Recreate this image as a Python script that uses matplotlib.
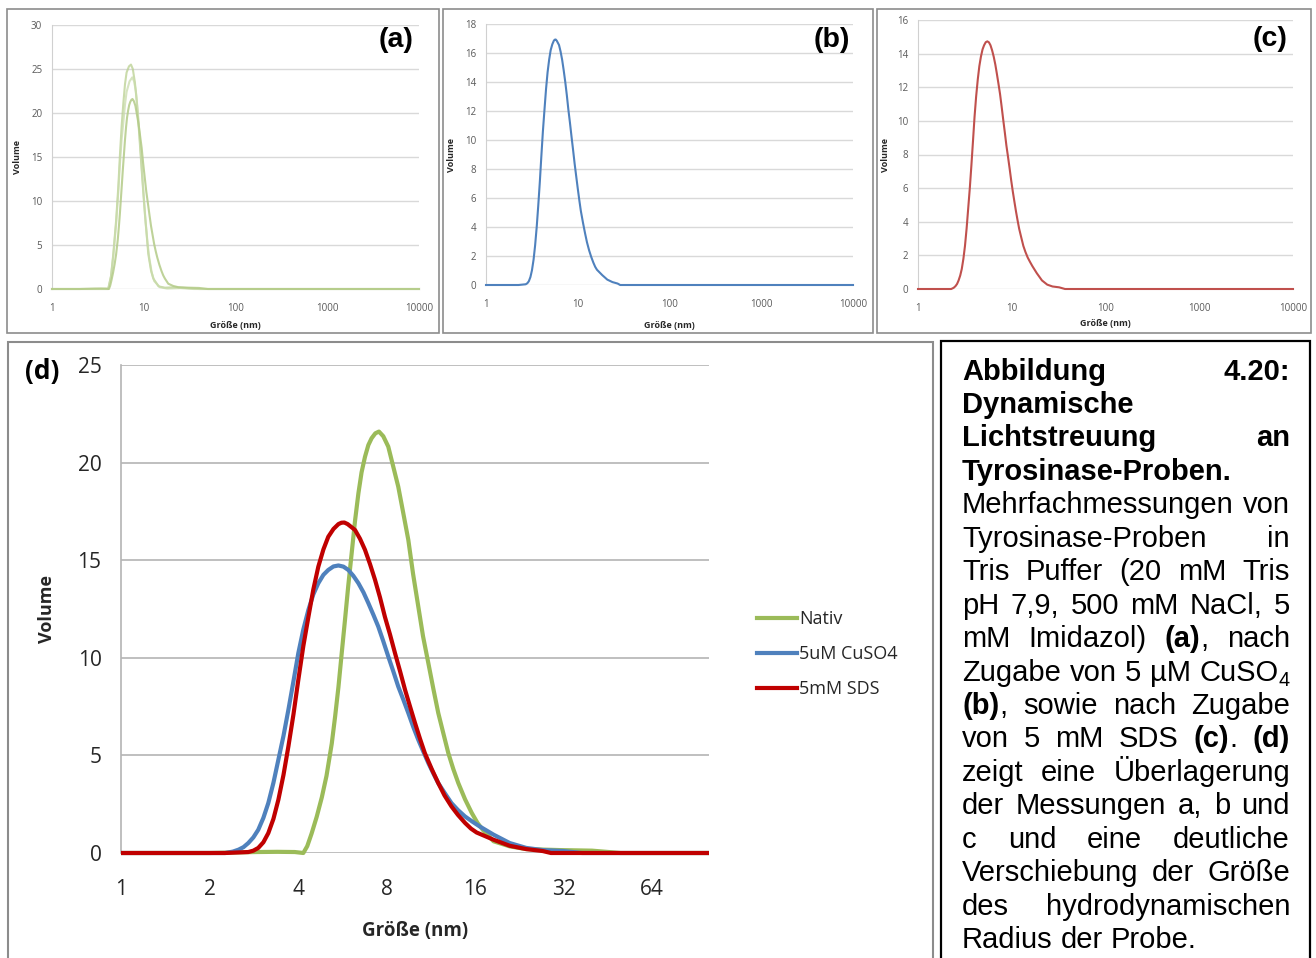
"""Rebuild of the DLS figure (Abbildung 4.20): three single panels,
one overlay panel and the justified caption box on the right.
"""

import numpy as np
import matplotlib

matplotlib.use("Agg")
import matplotlib.pyplot as plt
from matplotlib.patches import Rectangle
from matplotlib.ticker import NullLocator

# ---- data (size in nm, volume in %) ----
nativ_x = [1, 2.0, 2.9, 3.4, 3.9, 4.17, 4.3, 4.45, 4.63, 4.82, 5.0, 5.21,
           5.35, 5.49, 5.63, 5.78, 5.93, 6.09, 6.25, 6.42, 6.58, 6.76, 6.94,
           7.12, 7.33, 7.54, 7.8, 8.11, 8.4, 8.77, 9.1, 9.49, 9.85, 10.26,
           10.65, 11.1, 11.55, 12.0, 12.5, 12.98, 13.5, 14.04, 14.8, 15.6,
           16.3, 17.0, 18.5, 21.0, 23.9, 31, 40, 45.6, 50, 10000]
nativ_y = [0, 0, 0.05, 0.06, 0.05, 0, 0.35, 1.0, 1.85, 2.85, 3.95, 5.6,
           7.0, 8.5, 10.2, 11.95, 13.7, 15.36, 17.0, 18.43, 19.5, 20.3, 20.9,
           21.25, 21.5, 21.59, 21.35, 20.82, 19.9, 18.77, 17.5, 16.04, 14.3,
           12.63, 11.1, 9.73, 8.4, 7.17, 6.1, 5.12, 4.3, 3.58, 2.75, 2.05,
           1.55, 1.19, 0.6, 0.34, 0.2, 0.15, 0.12, 0.05, 0, 0]

cuso4_x = [1, 2.26, 2.4, 2.51, 2.61, 2.71, 2.82, 2.93, 3.05, 3.17, 3.3,
           3.43, 3.57, 3.71, 3.86, 4.01, 4.17, 4.34, 4.51, 4.69, 4.88, 5.07,
           5.28, 5.49, 5.71, 5.93, 6.17, 6.42, 6.68, 6.94, 7.22, 7.5, 7.8,
           8.11, 8.44, 8.77, 9.13, 9.49, 9.87, 10.26, 10.67, 11.1, 11.55,
           12.0, 12.65, 13.3, 14.0, 14.8, 15.7, 16.6, 18.5, 21.0, 23.9, 27.2,
           32, 37, 10000]
cuso4_y = [0, 0, 0.07, 0.17, 0.3, 0.51, 0.8, 1.19, 1.8, 2.56, 3.6, 4.78,
           6.0, 7.34, 8.8, 10.24, 11.45, 12.46, 13.25, 13.82, 14.25, 14.5,
           14.68, 14.73, 14.67, 14.5, 14.2, 13.82, 13.35, 12.8, 12.2, 11.6,
           10.85, 10.07, 9.3, 8.53, 7.85, 7.17, 6.45, 5.8, 5.2, 4.61, 4.07,
           3.58, 3.05, 2.56, 2.2, 1.87, 1.6, 1.36, 0.94, 0.51, 0.26, 0.15,
           0.1, 0, 0]

sds_x = [1, 2.26, 2.71, 2.82, 2.93, 3.05, 3.17, 3.3, 3.43, 3.57, 3.71,
         3.86, 4.01, 4.17, 4.34, 4.51, 4.69, 4.88, 5.07, 5.28, 5.49, 5.62,
         5.75, 5.9, 6.25, 6.5, 6.76, 7.03, 7.31, 7.6, 7.9, 8.22, 8.55, 8.9,
         9.25, 9.62, 10.0, 10.4, 10.8, 11.4, 12.0, 12.6, 13.3, 14.0, 14.8,
         15.5, 16.2, 18.5, 21.0, 23.9, 27.2, 29, 10000]
sds_y = [0, 0, 0.05, 0.12, 0.26, 0.55, 1.02, 1.75, 2.73, 4.0, 5.46, 7.1,
         8.87, 10.6, 12.1, 13.5, 14.67, 15.55, 16.2, 16.6, 16.85, 16.92,
         16.93, 16.85, 16.55, 16.1, 15.53, 14.8, 14.0, 13.1, 12.1, 11.2,
         10.24, 9.3, 8.36, 7.5, 6.66, 5.85, 5.12, 4.3, 3.58, 2.95, 2.39,
         1.95, 1.54, 1.25, 1.05, 0.68, 0.37, 0.2, 0.1, 0, 0]

# two further repeat measurements of the native sample, panel (a)
rep1_x = [1, 4.1, 4.4, 4.66, 5.0, 5.28, 5.5, 5.74, 6.0, 6.25, 6.5, 6.9,
          7.26, 7.6, 8.0, 8.4, 8.8, 9.2, 9.5, 9.9, 10.3, 10.8, 11.2, 12.0,
          12.7, 14.5, 17, 22, 30, 40, 10000]
rep1_y = [0, 0, 1.5, 4.0, 7.8, 11.6, 15.2, 18.5, 21.2, 23.3, 24.6, 25.3,
          25.5, 25.0, 23.5, 21.3, 18.5, 15.6, 13.5, 10.9, 8.5, 6.0, 4.0, 2.1,
          1.2, 0.3, 0.15, 0.2, 0.1, 0, 0]
rep2_x = [1, 4.1, 4.4, 4.66, 5.0, 5.28, 5.5, 5.74, 6.0, 6.25, 6.5, 7.0,
          7.5, 7.85, 8.2, 8.6, 9.0, 9.35, 9.7, 10.1, 10.5, 11.0, 11.5, 12.2,
          13.0, 15.0, 18, 25, 35, 10000]
rep2_y = [0, 0, 1.4, 3.8, 7.4, 11.0, 14.2, 17.0, 19.0, 21.0, 22.4, 23.6,
          24.05, 23.6, 22.5, 20.2, 17.5, 15.0, 12.5, 9.9, 7.5, 5.2, 3.5, 1.9,
          0.9, 0.2, 0.05, 0.1, 0, 0]

series_labels = ["Nativ", "5uM CuSO4", "5mM SDS"]
small_xticks = [1, 10, 100, 1000, 10000]
big_xticks = [1, 2, 4, 8, 16, 32, 64]

caption_lines = [
    ("*Abbildung 4.20:*", True),
    ("*Dynamische*", False),
    ("*Lichtstreuung an*", True),
    ("*Tyrosinase-Proben.*", False),
    ("Mehrfachmessungen von", True),
    ("Tyrosinase-Proben in", True),
    ("Tris Puffer (20 mM Tris", True),
    ("pH 7,9, 500 mM NaCl, 5", True),
    ("mM Imidazol) *(a)*, nach", True),
    ("Zugabe von 5 \u00b5M CuSO_4", True),
    ("*(b)*, sowie nach Zugabe", True),
    ("von 5 mM SDS *(c)*. *(d)*", True),
    ("zeigt eine \u00dcberlagerung", True),
    ("der Messungen a, b und", True),
    ("c und eine deutliche", True),
    ("Verschiebung der Gr\u00f6\u00dfe", True),
    ("des hydrodynamischen", True),
    ("Radius der Probe.", False),
]

W, H = 1316, 958
UI_FONT = "Open Sans"
CAP_FONT = "Liberation Sans"
CAP_FS = 21


def fx(px):
    return px / W


def fy(py):
    return 1 - py / H


def frame(fig, x0, y0, x1, y1, color, lw):
    fig.add_artist(Rectangle((fx(x0), fy(y1)), (x1 - x0) / W, (y1 - y0) / H,
                             transform=fig.transFigure, fill=False,
                             edgecolor=color, linewidth=lw))


def small_panel(fig, box, ymax, ystep, curves, tag, tag_pos, ylab_pos,
                xlab_pos):
    left, top, right, bottom = box
    ax = fig.add_axes([fx(left), fy(bottom), (right - left) / W,
                       (bottom - top) / H])
    for x, y, color, alpha in curves:
        ax.plot(x, y, color=color, lw=1.5, alpha=alpha, clip_on=False,
                zorder=3, solid_joinstyle="round")
    ax.set_xscale("log")
    ax.set_xlim(1, 10000)
    ax.set_ylim(0, ymax)
    ax.set_xticks(small_xticks)
    ax.set_xticklabels([str(t) for t in small_xticks])
    ax.xaxis.set_minor_locator(NullLocator())
    ax.set_yticks(np.arange(0, ymax + 1, ystep))
    ax.grid(axis="y", color="#d9d9d9", lw=1)
    ax.set_axisbelow(True)
    ax.tick_params(length=0, labelsize=7, labelcolor="#595959")
    ax.tick_params(axis="x", pad=10)
    ax.tick_params(axis="y", pad=7)
    for lab in ax.get_xticklabels() + ax.get_yticklabels():
        lab.set_family(UI_FONT)
    for s in ["top", "right", "bottom"]:
        ax.spines[s].set_visible(False)
    ax.spines["left"].set_color("#d0d0d0")

    fig.text(fx(tag_pos[0]), fy(tag_pos[1]), tag, fontsize=20.5,
             fontweight="bold", family=CAP_FONT, ha="right", va="center")
    fig.text(fx(ylab_pos[0]), fy(ylab_pos[1]), "Volume", fontsize=6.5,
             fontweight="bold", family=UI_FONT, rotation=90,
             ha="center", va="center", color="#262626")
    fig.text(fx(xlab_pos[0]), fy(xlab_pos[1]), "Gr\u00f6\u00dfe (nm)",
             fontsize=6.5, fontweight="bold", family=UI_FONT,
             ha="center", va="center", color="#262626")
    return ax


def parse_line(line):
    """split a caption line into words made of (text, bold, subscript)"""
    words = []
    bold = False
    for raw in line.split(" "):
        segs = []
        buf = ""
        sub = False
        for ch in raw:
            if ch == "*":
                if buf:
                    segs.append((buf, bold, False))
                    buf = ""
                bold = not bold
            elif ch == "_":
                if buf:
                    segs.append((buf, bold, False))
                    buf = ""
                sub = True
            elif sub:
                segs.append((ch, bold, True))
                sub = False
            else:
                buf += ch
        if buf:
            segs.append((buf, bold, False))
        words.append(segs)
    return words


def draw_caption(fig, x0, x1, first_base, step):
    renderer = fig.canvas.get_renderer()
    space = 0.278 * CAP_FS * 100 / 72
    for i, (line, justify) in enumerate(caption_lines):
        base = first_base + i * step
        placed = []
        widths = []
        for segs in parse_line(line):
            items = []
            wsum = 0
            for s, bold, sub in segs:
                t = fig.text(0, 0, s, fontsize=CAP_FS * (0.68 if sub else 1),
                             fontweight="bold" if bold else "normal",
                             family=CAP_FONT, ha="left", va="baseline")
                items.append((t, wsum, sub))
                wsum += t.get_window_extent(renderer).width
            placed.append(items)
            widths.append(wsum)
        if justify and len(widths) > 1:
            gap = (x1 - x0 - sum(widths)) / (len(widths) - 1)
        else:
            gap = space
        x = x0
        for items, w in zip(placed, widths):
            for t, off, sub in items:
                t.set_position((fx(x + off), fy(base + (5 if sub else 0))))
            x += w + gap


def main():
    fig = plt.figure(figsize=(W / 100, H / 100), dpi=100)

    # outer frames
    frame(fig, 7, 9, 439, 333, "#8c8c8c", 1.2)
    frame(fig, 443, 9, 872.5, 333, "#8c8c8c", 1.2)
    frame(fig, 876.5, 9, 1311, 333, "#8c8c8c", 1.2)
    frame(fig, 8, 342, 932.5, 975, "#8c8c8c", 1.5)
    frame(fig, 940.5, 341, 1310, 975, "black", 1.6)

    small_panel(fig, (52, 25, 419, 289), 30, 5,
                [(rep1_x, rep1_y, "#b9d08f", 0.75),
                 (rep2_x, rep2_y, "#c9dbab", 0.75),
                 (nativ_x, nativ_y, "#b3cb87", 0.85)],
                "(a)", (414, 40), (18, 157), (235, 325))
    small_panel(fig, (486, 24, 853, 285), 18, 2,
                [(sds_x, sds_y, "#4f81bd", 1.0)],
                "(b)", (850, 40), (451, 155), (669, 325))
    small_panel(fig, (918, 20, 1293, 289), 16, 2,
                [(cuso4_x, cuso4_y, "#c0504d", 1.0)],
                "(c)", (1288, 39), (886, 155), (1105, 324))

    # overlay panel (d)
    ax = fig.add_axes([fx(121), fy(853), 588 / W, 488 / H])
    clip = Rectangle((0, -0.02), 1, 1.04, transform=ax.transAxes)
    colors = ["#9bbb59", "#4f81bd", "#c00000"]
    for (x, y), color, label in zip(
            [(nativ_x, nativ_y), (cuso4_x, cuso4_y), (sds_x, sds_y)],
            colors, series_labels):
        line, = ax.plot(x, y, color=color, lw=3, label=label, zorder=3,
                        solid_joinstyle="round")
        line.set_clip_path(clip)
    ax.set_xscale("log", base=2)
    ax.set_xlim(1, 100)
    ax.set_ylim(0, 25)
    ax.set_xticks(big_xticks)
    ax.set_xticklabels([str(t) for t in big_xticks])
    ax.xaxis.set_minor_locator(NullLocator())
    ax.set_yticks(range(0, 26, 5))
    ax.grid(axis="y", color="#b4b4b4", lw=1.2)
    ax.set_axisbelow(True)
    ax.tick_params(length=0, labelsize=15, labelcolor="#262626")
    ax.tick_params(axis="x", pad=19)
    ax.tick_params(axis="y", pad=14)
    for lab in ax.get_xticklabels() + ax.get_yticklabels():
        lab.set_family(UI_FONT)
    for s in ["top", "right", "bottom"]:
        ax.spines[s].set_visible(False)
    ax.spines["left"].set_color("#b4b4b4")
    ax.spines["left"].set_linewidth(1.2)

    leg = ax.legend(loc="center left", bbox_to_anchor=(fx(757), fy(654)),
                    bbox_transform=fig.transFigure, frameon=False,
                    prop={"family": UI_FONT, "size": 13}, handlelength=2.2,
                    handletextpad=0.15, labelspacing=0.95, borderpad=0,
                    borderaxespad=0)
    for t in leg.get_texts():
        t.set_color("#262626")

    fig.text(fx(25), fy(372), "(d)", fontsize=19, fontweight="bold",
             family=UI_FONT, ha="left", va="center")
    fig.text(fx(47), fy(609), "Volume", fontsize=13, fontweight="bold",
             family=UI_FONT, rotation=90, ha="center", va="center",
             color="#262626")
    fig.text(fx(415), fy(931), "Gr\u00f6\u00dfe (nm)", fontsize=13.5,
             fontweight="bold", family=UI_FONT, ha="center", va="center",
             color="#262626")

    # caption box, full justification done by hand
    draw_caption(fig, 962, 1290, 379.5, 33.45)

    fig.savefig("out.png", dpi=100)
    print("Plot saved as 'out.png'")


if __name__ == "__main__":
    main()
